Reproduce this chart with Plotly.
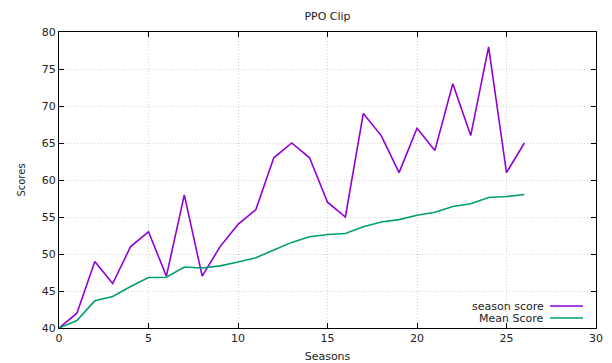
import plotly.graph_objects as go

seasons = list(range(27))
season_score = [40, 42, 49, 46, 51, 53, 47, 58, 47, 51, 54, 56, 63, 65, 63, 57, 55,
                69, 66, 61, 67, 64, 73, 66, 78, 61, 65]
mean_score = [40.0, 41.0, 43.67, 44.25, 45.6, 46.83, 46.86, 48.25, 48.11, 48.4, 48.91,
              49.5, 50.54, 51.57, 52.33, 52.63, 52.76, 53.67, 54.32, 54.65, 55.24,
              55.64, 56.43, 56.79, 57.64, 57.77, 58.04]
x_ticks = [0, 5, 10, 15, 20, 25, 30]
y_ticks = [40, 45, 50, 55, 60, 65, 70, 75, 80]

PURPLE = "#9400d3"
GREEN = "#009e73"
FONT = "DejaVu Sans"

fig = go.Figure()
fig.add_trace(go.Scatter(x=seasons, y=season_score, mode="lines", name="season score",
                         line=dict(color=PURPLE, width=1.6)))
fig.add_trace(go.Scatter(x=seasons, y=mean_score, mode="lines", name="Mean Score",
                         line=dict(color=GREEN, width=1.6)))

axis_common = dict(
    showline=True, linecolor="black", linewidth=1.2, mirror="ticks",
    ticks="inside", ticklen=5, tickcolor="black", tickwidth=1,
    showgrid=True, gridcolor="#d4d4d4", griddash="1px,2px", gridwidth=1,
    zeroline=False, tickfont=dict(family=FONT, size=11, color="#222"),
    automargin=False,
)

# page body has an 8px margin; compensate so the plot area sits at x 59..596, y 32..328
PL, PR, PT, PB = 59, 596, 32, 328
fig.update_layout(
    width=604, height=355,
    margin=dict(l=PL - 8, r=612 - PR, t=PT - 8, b=363 - PB),
    paper_bgcolor="white", plot_bgcolor="white",
    showlegend=False,
    title=dict(text="PPO Clip", x=0.5, xref="paper", xanchor="center", y=0.978, yanchor="middle",
               font=dict(family=FONT, size=11, color="#222")),
    xaxis=dict(range=[0, 30], tickvals=x_ticks,
               title=dict(text="Seasons", font=dict(family=FONT, size=11, color="#222"), standoff=8),
               **axis_common),
    yaxis=dict(range=[40, 80], tickvals=y_ticks,
               title=dict(text="Scores", font=dict(family=FONT, size=10, color="#222"), standoff=14),
               **axis_common),
    font=dict(family=FONT),
)

# legend (gnuplot style: text right-aligned, sample line on the right)
legend_items = [("season score", PURPLE), ("Mean Score", GREEN)]
W, H = PR - PL, PB - PT
for i, (label, color) in enumerate(legend_items):
    yy = 306 + 12 * i
    ypaper = 1 - (yy - PT) / H
    fig.add_annotation(x=(546 - PL) / W, y=ypaper, xref="paper", yref="paper",
                       text=label, showarrow=False, xanchor="right", yanchor="middle",
                       font=dict(family=FONT, size=11, color="#222"))
    fig.add_shape(type="line", xref="paper", yref="paper",
                  x0=(550 - PL) / W, x1=(583 - PL) / W, y0=ypaper, y1=ypaper,
                  line=dict(color=color, width=1.6))

fig.write_html("out.html")
